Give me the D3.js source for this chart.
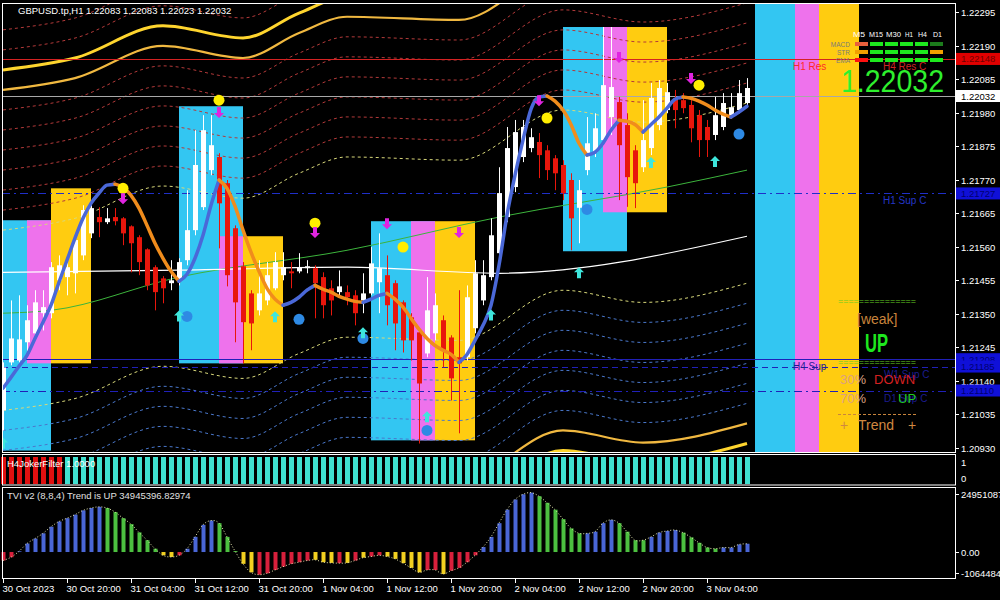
<!DOCTYPE html>
<html><head><meta charset="utf-8">
<script src="https://cdn.jsdelivr.net/npm/d3@7"></script>
<style>
body{margin:0;background:#000;}
svg{display:block;}
text{font-family:"Liberation Sans",Arial,sans-serif;}
</style></head><body>
<svg id="c" width="1000" height="600"></svg>
<script>
// ---------------- DATA ----------------
const chartTitle = "GBPUSD.tp,H1  1.22083 1.22083 1.22023 1.22032";
const opens = [1.21048,1.21198,1.21204,1.21261,1.21289,1.21352,1.21352,1.21455,1.21465,1.21477,
1.21533,1.21602,1.21653,1.21637,1.21653,1.21649,1.21624,1.21590,1.21552,1.21496,
1.21461,1.21446,1.21455,1.21518,1.21612,1.21684,1.21800,1.21841,1.21759,1.21618,
1.21499,1.21414,1.21361,1.21392,1.21430,1.21471,1.21483,1.21483,1.21493,1.21493,
1.21465,1.21430,1.21418,1.21418,1.21408,1.21392,1.21414,1.21449,1.21471,1.21446,
1.21386,1.21339,1.21292,1.21226,1.21289,1.21330,1.21276,1.21214,1.21214,1.21305,
1.21392,1.21465,1.21540,1.21653,1.21747,1.21841,1.21869,1.21888,1.21862,1.21837,
1.21816,1.21769,1.21682,1.21800,1.21856,1.21894,1.21966,1.22013,1.21941,1.21862,
1.21809,1.21869,1.21941,1.21988,1.22025,1.22019,1.22004,1.21972,1.21935,1.21910,
1.21935,1.21972,1.21988,1.22010];
const highs = [1.21198,1.21392,1.21408,1.21377,1.21424,1.21424,1.21512,1.21533,1.21533,1.21602,
1.21690,1.21690,1.21684,1.21681,1.21681,1.21653,1.21627,1.21596,1.21555,1.21502,
1.21468,1.21518,1.21524,1.21737,1.21925,1.21972,1.21972,1.21853,1.21769,1.21627,
1.21512,1.21424,1.21518,1.21512,1.21543,1.21543,1.21512,1.21540,1.21518,1.21502,
1.21480,1.21455,1.21486,1.21439,1.21424,1.21477,1.21559,1.21602,1.21533,1.21455,
1.21392,1.21352,1.21305,1.21465,1.21414,1.21345,1.21283,1.21424,1.21439,1.21518,
1.21518,1.21649,1.21809,1.21935,1.21957,1.21957,1.21931,1.21916,1.21878,1.21847,
1.21831,1.21790,1.21769,1.21966,1.21978,1.22248,1.22248,1.22029,1.21978,1.21878,
1.22019,1.22073,1.22082,1.22073,1.22051,1.22041,1.22019,1.21988,1.21957,1.22029,
1.22041,1.22041,1.22082,1.22088];
const lows = [1.20985,1.21189,1.21198,1.21229,1.21267,1.21298,1.21336,1.21424,1.21408,1.21414,
1.21518,1.21587,1.21590,1.21631,1.21627,1.21565,1.21480,1.21471,1.21424,1.21361,
1.21383,1.21424,1.21439,1.21502,1.21596,1.21675,1.21784,1.21555,1.21436,1.21261,
1.21195,1.21236,1.21345,1.21377,1.21424,1.21455,1.21430,1.21477,1.21477,1.21336,
1.21336,1.21345,1.21402,1.21377,1.21314,1.21352,1.21408,1.21352,1.21314,1.21236,
1.21229,1.21204,1.20944,1.21214,1.21267,1.21182,1.21079,1.20976,1.21204,1.21289,
1.21377,1.21455,1.21527,1.21637,1.21731,1.21825,1.21856,1.21775,1.21769,1.21737,
1.21706,1.21549,1.21571,1.21784,1.21841,1.21878,1.21910,1.21706,1.21685,1.21681,
1.21794,1.21847,1.21925,1.21978,1.21931,1.21978,1.21887,1.21841,1.21841,1.21894,
1.21925,1.21963,1.21978,1.22004];
const closes = [1.21182,1.21273,1.21270,1.21330,1.21386,1.21371,1.21496,1.21502,1.21496,1.21581,
1.21675,1.21681,1.21637,1.21649,1.21640,1.21602,1.21571,1.21512,1.21439,1.21418,
1.21430,1.21455,1.21512,1.21612,1.21816,1.21925,1.21878,1.21696,1.21471,1.21386,
1.21324,1.21320,1.21414,1.21471,1.21512,1.21496,1.21477,1.21496,1.21499,1.21446,
1.21377,1.21392,1.21436,1.21402,1.21352,1.21414,1.21508,1.21493,1.21377,1.21320,
1.21267,1.21267,1.21132,1.21361,1.21377,1.21236,1.21148,1.21195,1.21402,1.21477,
1.21471,1.21596,1.21728,1.21869,1.21919,1.21935,1.21903,1.21847,1.21800,1.21790,
1.21728,1.21649,1.21737,1.21884,1.21931,1.22066,1.22060,1.21878,1.21778,1.21759,
1.21894,1.22026,1.22057,1.22044,1.21988,1.21994,1.21931,1.21894,1.21894,1.21972,
1.22010,1.21997,1.22041,1.22057];
// smoothed trend line (blue rising / orange falling)
const trendLine = [1.21117,1.21151,1.21186,1.21220,1.21273,1.21324,1.21377,1.21449,1.21518,1.21587,
1.21649,1.21696,1.21728,1.21753,1.21756,1.21746,1.21721,1.21681,1.21627,1.21571,
1.21524,1.21483,1.21452,1.21474,1.21524,1.21596,1.21690,1.21769,1.21743,1.21687,
1.21612,1.21543,1.21483,1.21430,1.21396,1.21377,1.21386,1.21402,1.21424,1.21439,
1.21427,1.21418,1.21405,1.21396,1.21389,1.21386,1.21396,1.21408,1.21414,1.21396,
1.21371,1.21336,1.21302,1.21273,1.21251,1.21236,1.21223,1.21198,1.21223,1.21267,
1.21314,1.21377,1.21502,1.21659,1.21784,1.21894,1.21991,1.22029,1.22032,1.22016,
1.21988,1.21943,1.21884,1.21847,1.21856,1.21884,1.21925,1.21956,1.21953,1.21943,
1.21919,1.21943,1.21966,1.21994,1.22022,1.22029,1.22025,1.22016,1.22004,1.21988,
1.21975,1.21966,1.21982,1.22000];
// moving averages (sampled bars)
const greenBars = [0,6,22,43,62,83,93];
const greenVals = [1.21352,1.21361,1.21465,1.21549,1.21653,1.21747,1.21800];
const whiteBars = [0,22,43,62,93];
const whiteVals = [1.21480,1.21487,1.21496,1.21477,1.21593];
// envelope bands
const bandBars = [0,9,20,30,37,43,57,70,80,93];
const bandMid  = [1.21330,1.21367,1.21468,1.21430,1.21508,1.21559,1.21549,1.21706,1.21668,1.21728];
const bandStep = 0.000627;
const bandLevels = [4.5,5.5,6.5,7.5,8.5,9.5,10.5,11.5,12.5,13.5,14.5];
// zones (start bar, cyan/pink/yellow price ranges)
const zoneStart = [-2,22,46,70,94];
const zoneCyan   = [[1.21643,1.20922],[1.22000,1.21195],[1.21640,1.20954],[1.22248,1.21546],[1.2245,1.2080]];
const zonePink   = [[1.21643,1.21195],[1.21593,1.21195],[1.21640,1.20954],[1.22248,1.21668],[1.2245,1.2080]];
const zoneYellow = [[1.21743,1.21195],[1.21593,1.21195],[1.21640,1.20954],[1.22248,1.21668],[1.2245,1.2080]];
// signals
const yellowDotBars = [15,27,39,50,68,87];
const yellowDotVals = [1.21743,1.22019,1.21634,1.21559,1.21963,1.22066];
const downArrowBars = [15,27,39,48,57,67,77,86];
const downArrowVals = [1.21712,1.21982,1.21606,1.21634,1.21606,1.22019,1.22154,1.22088];
const upArrowBars = [0,22,34,45,53,61,72,81,89];
const upArrowVals = [1.20944,1.21342,1.21339,1.21289,1.21026,1.21345,1.21477,1.21822,1.21825];
const blueDotBars = [23,37,45,53,73,92];
const blueDotVals = [1.21342,1.21333,1.21273,1.20985,1.21677,1.21913];
// horizontal levels
const levelPrices = [1.22148,1.22032,1.21727,1.21208,1.21185,1.21110];
const levelNames  = ["H4 Res C","","H1 Sup C","H4 Sup","W1 Sup C","D1 Sup C"];
// axes
const priceTicks = [1.22295,1.22190,1.22085,1.21980,1.21875,1.21770,1.21665,1.21560,1.21455,1.21350,1.21245,1.21140,1.21035,1.20930];
const timeTickBars = [0,8,16,24,32,40,48,56,64,72,80,88];
const timeTickLabels = ["30 Oct 2023","30 Oct 20:00","31 Oct 04:00","31 Oct 12:00","31 Oct 20:00","1 Nov 04:00","1 Nov 12:00","1 Nov 20:00","2 Nov 04:00","2 Nov 12:00","2 Nov 20:00","3 Nov 04:00"];
// Joker filter (-1 red, 1 cyan)
const jokerDir = [-1,-1,-1,-1,-1,-1,-1,-1,1,1,1,1,1,1,1,1,1,1,1,1,1,1,1,1,1,1,1,1,1,1,1,1,1,1,1,1,1,1,1,1,1,1,1,1,1,1,1,1,1,1,1,1,1,1,1,1,1,1,1,1,1,1,1,1,1,1,1,1,1,1,1,1,1,1,1,1,1,1,1,1,1,1,1,1,1,1,1,1,1,1,1,1,1,1];
const jokerLabel = "H4JokerFilter 1.0000";
// TVI (millions)
const tvi = [-36,-22,3,36,57,79,107,129,143,158,
176,186,191,186,169,143,118,83,50,14,
-14,-21,-14,14,64,115,133,122,64,4,
-50,-86,-96,-90,-76,-62,-50,-43,-36,-33,
-43,-46,-47,-46,-36,-24,-19,-14,-19,-29,
-47,-67,-86,-76,-76,-93,-79,-67,-43,-14,
21,64,122,179,222,244,251,236,208,179,
139,100,79,79,86,122,136,122,86,50,
50,64,82,89,93,82,62,39,19,14,
19,19,32,35];
const tviDir = [1,1,1,1,1,1,1,1,1,1,1,1,1,0,0,0,0,0,0,0,0,0,1,1,1,1,1,0,0,0,0,0,1,1,1,1,1,1,1,0,0,0,1,0,1,0,1,1,0,0,0,0,0,1,1,0,1,1,1,1,1,1,1,1,1,1,1,0,0,0,0,0,0,1,1,1,1,0,0,0,0,1,1,1,1,0,0,0,0,0,1,1,1,1];
const tviLabel = "TVI v2 (8,8,4) Trend is UP 34945396.82974";
const tviTickVals = [249510874,0,-10644840];
const tviTickLabels = ["249510874","0.00","-10644840"];
// info panel
const tfNames = ["M5","M15","M30","H1","H4","D1"];
const tfRows = ["MACD","STR","EMA"];
const tfStates = [["dn","up","up","up","up","wk"],["nt","up","up","up","up","nt"],["dn2","up","up","up","up","up"]];
const bidPrice = "1.22032";
const strengthText = "[weak]", trendWord = "UP";
const pctDown = "30%", pctUp = "70%";

// ---------------- DRAW ----------------
const svg = d3.select("#c");
svg.append("rect").attr("width",1000).attr("height",600).attr("fill","#000");
const N = closes.length;
const X0 = 2, X1 = 955, Y0 = 3, Y1 = 452;
const x = d3.scaleLinear().domain([0,93]).range([3,747]);
const y = d3.scaleLinear().domain([1.20930,1.22295]).range([448,12]);

svg.append("defs").append("clipPath").attr("id","mc").append("rect")
  .attr("x",X0).attr("y",Y0).attr("width",X1-X0).attr("height",Y1-Y0);
const main = svg.append("g").attr("clip-path","url(#mc)");

// zones
const zg = main.append("g");
zoneStart.forEach((s,k)=>{
  zg.append("rect").attr("x",x(s)).attr("width",x(s+8)-x(s))
    .attr("y",y(zoneCyan[k][0])).attr("height",y(zoneCyan[k][1])-y(zoneCyan[k][0])).attr("fill","#33c6f2");
  zg.append("rect").attr("x",x(s+5)).attr("width",x(s+8)-x(s+5))
    .attr("y",y(zonePink[k][0])).attr("height",y(zonePink[k][1])-y(zonePink[k][0])).attr("fill","#ee72ec");
  zg.append("rect").attr("x",x(s+8)).attr("width",x(s+13)-x(s+8))
    .attr("y",y(zoneYellow[k][0])).attr("height",y(zoneYellow[k][1])-y(zoneYellow[k][0])).attr("fill","#ffcc10");
});

// envelope bands
const bg = main.append("g").attr("fill","none");
const bandLine = d3.line().x(d=>x(d[0])).y(d=>y(d[1])).curve(d3.curveMonotoneX);
bandLevels.forEach(L=>{
  [1,-1].forEach(s=>{
    const pts = bandBars.map((b,k)=>[b, bandMid[k]+s*L*bandStep]);
    const p = bg.append("path").attr("d",bandLine(pts));
    if(L===11.5||L===12.5){
      p.attr("stroke", L>12 ? "#ffd52e" : "#f0b840").attr("stroke-width", L>12?3:2.2);
    } else {
      let col = L<5 ? "#d8d87a" : (s>0 ? "#b43a3a" : "#4a78cc");
      p.attr("stroke",col).attr("stroke-width",1).attr("stroke-dasharray","3,3");
    }
  });
});

// MAs
main.append("path").attr("d",d3.line().x((d,i)=>x(greenBars[i])).y(d=>y(d)).curve(d3.curveMonotoneX)(greenVals))
  .attr("fill","none").attr("stroke","#3cb43c").attr("stroke-width",1);
main.append("path").attr("d",d3.line().x((d,i)=>x(whiteBars[i])).y(d=>y(d)).curve(d3.curveMonotoneX)(whiteVals))
  .attr("fill","none").attr("stroke","#ffffff").attr("stroke-width",1.2);

// horizontal levels
const lvlStyle = [
  {c:"#d42222",d:null,w:1},{c:"#a8a8a8",d:null,w:1},{c:"#1f2fc8",d:"8,4,2,4",w:1},
  {c:"#2020b8",d:null,w:1.2},{c:"#2020b8",d:"6,4",w:1},{c:"#2020b8",d:"8,4,2,4",w:1}];
levelPrices.forEach((p,k)=>{
  main.append("line").attr("x1",X0).attr("x2",X1).attr("y1",Math.round(y(p))+0.5).attr("y2",Math.round(y(p))+0.5)
    .attr("stroke",lvlStyle[k].c).attr("stroke-width",lvlStyle[k].w).attr("stroke-dasharray",lvlStyle[k].d);
});

// candles
const cg = main.append("g");
const cd = d3.range(N);
cg.selectAll("line.w").data(cd).join("line")
  .attr("x1",i=>x(i)+0.5).attr("x2",i=>x(i)+0.5).attr("y1",i=>y(highs[i])).attr("y2",i=>y(lows[i]))
  .attr("stroke",i=>closes[i]>=opens[i]?"#ffffff":"#e8160c").attr("stroke-width",1);
cg.selectAll("rect.b").data(cd).join("rect")
  .attr("x",i=>x(i)-2).attr("width",5)
  .attr("y",i=>y(Math.max(opens[i],closes[i])))
  .attr("height",i=>Math.max(1,Math.abs(y(opens[i])-y(closes[i]))))
  .attr("fill",i=>closes[i]>=opens[i]?"#ffffff":"#e8160c");

// trend line
const runs=[]; let cur=null;
for(let i=1;i<N;i++){
  const up = trendLine[i]>=trendLine[i-1];
  if(!cur||cur.up!==up){cur={up,pts:[i-1]};runs.push(cur);}
  cur.pts.push(i);
}
const tl = d3.line().x(i=>x(i)).y(i=>y(trendLine[i])).curve(d3.curveMonotoneX);
runs.forEach(r=>{
  main.append("path").attr("d",tl(r.pts)).attr("fill","none")
    .attr("stroke",r.up?"#4a68d8":"#f08c1c").attr("stroke-width",3.5).attr("stroke-linecap","round");
});

// signals
const sg = main.append("g");
yellowDotBars.forEach((b,k)=>sg.append("circle").attr("cx",x(b)).attr("cy",y(yellowDotVals[k])).attr("r",5.5).attr("fill","#ffee00"));
blueDotBars.forEach((b,k)=>sg.append("circle").attr("cx",x(b)).attr("cy",y(blueDotVals[k])).attr("r",5.5).attr("fill","#2e8ae4"));
const upPath = "M0,-6L5,-1L2,-1L2,5L-2,5L-2,-1L-5,-1Z";
const dnPath = "M0,6L5,1L2,1L2,-5L-2,-5L-2,1L-5,1Z";
upArrowBars.forEach((b,k)=>sg.append("path").attr("d",upPath).attr("transform",`translate(${x(b)},${y(upArrowVals[k])})`).attr("fill","#3ee6dc"));
downArrowBars.forEach((b,k)=>sg.append("path").attr("d",dnPath).attr("transform",`translate(${x(b)},${y(downArrowVals[k])})`).attr("fill","#e024e0"));

// text labels on chart
const lblPos = [[883,"#d02424"],null,[883,"#2436c8"],[793,"#1c1c90"],[884,"#1c1c90"],[884,"#1c1c90"]];
levelNames.forEach((n,k)=>{
  if(!n) return;
  main.append("text").attr("x",lblPos[k][0]).attr("y",y(levelPrices[k])+11).attr("font-size",10).attr("fill",lblPos[k][1]).text(n);
});
main.append("text").attr("x",793).attr("y",y(levelPrices[0])+11).attr("font-size",10).attr("fill","#ff2a2a").text("H1 Res");

// info table
const tfColor = {up:"#1ee81e",wk:"#1c7c1c",dn:"#e8603c",nt:"#f2a000",dn2:"#ff1010"};
const tfHeadX = [853,869,886,905,918,933];
const tfHeadW = [12,14,15,8,9,9];
tfNames.forEach((n,j)=>{
  svg.append("text").attr("x",tfHeadX[j]).attr("y",37).attr("font-size",8).attr("fill","#ffffff")
    .attr("textLength",tfHeadW[j]).attr("lengthAdjust","spacingAndGlyphs").text(n);
});
tfRows.forEach((r,i)=>{
  svg.append("text").attr("x",850).attr("y",47+i*8).attr("text-anchor","end").attr("font-size",6.5).attr("fill","#7a7a7a").text(r);
  tfStates[i].forEach((s,j)=>{
    svg.append("rect").attr("x",855+j*15).attr("y",42+i*8).attr("width",13).attr("height",4).attr("fill",tfColor[s]);
  });
});
svg.append("text").attr("x",841).attr("y",92).attr("font-size",31).attr("fill","#2ef02e")
  .attr("textLength",103).attr("lengthAdjust","spacingAndGlyphs").text(bidPrice);

// strength block
svg.append("text").attr("x",838).attr("y",304).attr("font-size",9).attr("fill","#66cc22").attr("textLength",78).attr("lengthAdjust","spacingAndGlyphs").text("===============");
svg.append("text").attr("x",857).attr("y",324).attr("font-size",14).attr("fill","#c8843c").text(strengthText);
svg.append("text").attr("x",865).attr("y",352).attr("font-size",25).attr("font-weight","bold").attr("fill","#1ee81e")
  .attr("textLength",23).attr("lengthAdjust","spacingAndGlyphs").text(trendWord);
svg.append("text").attr("x",838).attr("y",365).attr("font-size",9).attr("fill","#66cc22").attr("textLength",78).attr("lengthAdjust","spacingAndGlyphs").text("===============");
svg.append("text").attr("x",840).attr("y",384).attr("font-size",13).attr("fill","#dca080").text(pctDown);
svg.append("text").attr("x",874).attr("y",384).attr("font-size",13).attr("fill","#d42020").text("DOWN");
svg.append("text").attr("x",840).attr("y",403).attr("font-size",13).attr("fill","#dca080").text(pctUp);
svg.append("text").attr("x",898).attr("y",403).attr("font-size",13).attr("fill","#22cc22").text("UP");
svg.append("line").attr("x1",838).attr("x2",916).attr("y1",414.5).attr("y2",414.5).attr("stroke","#c8843c").attr("stroke-dasharray","3,2");
svg.append("text").attr("x",840).attr("y",430).attr("font-size",14).attr("fill","#d08840").text("+");
svg.append("text").attr("x",858).attr("y",430).attr("font-size",14).attr("fill","#d08840").text("Trend");
svg.append("text").attr("x",908).attr("y",430).attr("font-size",14).attr("fill","#d08840").text("+");

// title
svg.append("text").attr("x",18).attr("y",14).attr("font-size",9.5).attr("fill","#ffffff").text(chartTitle);

// main border + price axis
svg.append("rect").attr("x",X0+0.5).attr("y",Y0+0.5).attr("width",X1-X0).attr("height",Y1-Y0).attr("fill","none").attr("stroke","#ffffff");
priceTicks.forEach(p=>{
  const yy=Math.round(y(p))+0.5;
  svg.append("line").attr("x1",X1).attr("x2",X1+4).attr("y1",yy).attr("y2",yy).attr("stroke","#fff");
  svg.append("text").attr("x",961).attr("y",yy+3.5).attr("font-size",9.5).attr("fill","#fff").text(p.toFixed(5));
});
// price boxes
const boxStyle = [["#e00000","#700000"],["#ffffff","#000000"],["#1010d8","#000070"],["#1010d8","#000070"],["#1010d8","#000070"],["#1010d8","#000070"]];
levelPrices.forEach((p,k)=>{
  const yy=y(p);
  svg.append("rect").attr("x",X1+1).attr("y",yy-6).attr("width",44).attr("height",12).attr("fill",boxStyle[k][0]);
  svg.append("text").attr("x",961).attr("y",yy+3.5).attr("font-size",9.5).attr("fill",boxStyle[k][1]).text(p.toFixed(5));
});

// Joker panel
const J0=455, J1=485;
svg.append("g").selectAll("rect").data(cd).join("rect")
  .attr("x",i=>x(i)-2).attr("width",5).attr("y",J0+2).attr("height",J1-J0-3)
  .attr("fill",i=>jokerDir[i]>0?"#40e0d0":"#e01010");
svg.append("rect").attr("x",X0+0.5).attr("y",J0-0.5).attr("width",X1-X0).attr("height",J1-J0+0.5).attr("fill","none").attr("stroke","#fff");
svg.append("text").attr("x",7).attr("y",467).attr("font-size",9.5).attr("fill","#fff").text(jokerLabel);
svg.append("text").attr("x",961).attr("y",466).attr("font-size",9.5).attr("fill","#fff").text("1");
svg.append("text").attr("x",961).attr("y",482).attr("font-size",9.5).attr("fill","#fff").text("0");

// TVI panel
const T0=487, T1=578;
const ty = d3.scaleLinear().domain([-106444840,249510874]).range([577.2,493]);
const tcol = i => tvi[i]>=0 ? (tviDir[i]?"#4a66d6":"#4cc040") : (tviDir[i]?"#d8203c":"#f2d020");
svg.append("g").selectAll("rect").data(cd).join("rect")
  .attr("x",i=>x(i)-1.5).attr("width",4)
  .attr("y",i=>Math.min(ty(0),ty(tvi[i]*1e6)))
  .attr("height",i=>Math.abs(ty(tvi[i]*1e6)-ty(0)))
  .attr("fill",i=>tcol(i));
svg.append("path").attr("d",d3.line().x(i=>x(i)).y(i=>ty(tvi[i]*1e6)).curve(d3.curveCardinal)(cd))
  .attr("fill","none").attr("stroke","#e8e8b0").attr("stroke-width",1).attr("stroke-dasharray","1,2");
svg.append("rect").attr("x",X0+0.5).attr("y",T0+0.5).attr("width",X1-X0).attr("height",T1-T0).attr("fill","none").attr("stroke","#fff");
svg.append("text").attr("x",7).attr("y",499).attr("font-size",9.5).attr("fill","#e0e0e0").text(tviLabel);
tviTickVals.forEach((v,k)=>{
  const yy = k===0?494:(k===1?ty(0):573);
  svg.append("line").attr("x1",X1).attr("x2",X1+4).attr("y1",Math.round(yy)+0.5).attr("y2",Math.round(yy)+0.5).attr("stroke","#fff");
  svg.append("text").attr("x",961).attr("y",yy+3.5).attr("font-size",9.5).attr("fill","#fff").text(tviTickLabels[k]);
});

// time axis
timeTickBars.forEach((b,k)=>{
  const xx=Math.round(x(b))+0.5;
  svg.append("line").attr("x1",xx).attr("x2",xx).attr("y1",T1).attr("y2",T1+5).attr("stroke","#fff");
  svg.append("text").attr("x",xx-1).attr("y",592).attr("font-size",9.5).attr("fill","#fff").text(timeTickLabels[k]);
});
</script>
</body></html>
